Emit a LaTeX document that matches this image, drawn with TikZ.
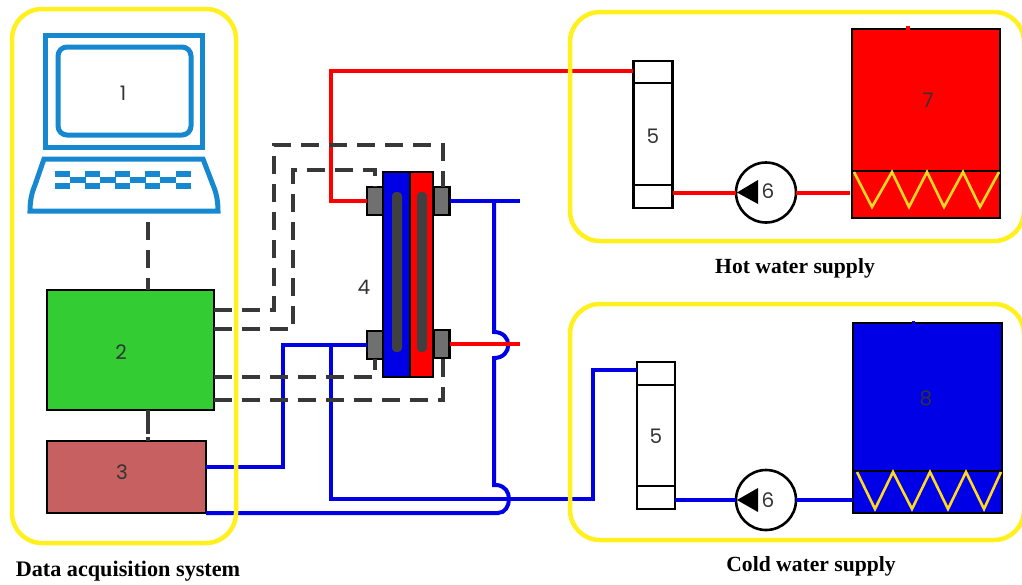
\documentclass[tikz,border=0pt]{standalone}
\usepackage{fontspec}
\setmainfont{Liberation Serif}
\newfontfamily\numfont{Poppins}
\usetikzlibrary{calc}
\definecolor{groupyellow}{HTML}{FFF01E}
\definecolor{coilyellow}{HTML}{FFD820}
\definecolor{lapblue}{HTML}{1688D0}
\definecolor{hotred}{HTML}{FF0000}
\definecolor{coldblue}{HTML}{0000E6}
\definecolor{daqgreen}{HTML}{33CC33}
\definecolor{ampbrown}{HTML}{C76060}
\definecolor{portgray}{HTML}{707070}
\definecolor{bargray}{HTML}{404040}
\definecolor{numgray}{HTML}{333333}
\tikzset{
  box/.style={draw=black, line width=2.6pt, minimum width=#1, inner sep=0pt, outer sep=0pt},
  groupbox/.style={draw=groupyellow, line width=4.5pt, rounded corners=30pt, inner sep=0pt},
  num/.style={font=\numfont\fontsize{20}{20}\selectfont, text=numgray, inner sep=0pt},
  caption/.style={font=\bfseries\fontsize{21.6}{22}\selectfont, inner sep=0pt},
  hotpipe/.style={draw=hotred, line width=4pt},
  coldpipe/.style={draw=coldblue, line width=4pt},
  signal/.style={draw=black!78, line width=3.2pt, dash pattern=on 18pt off 10pt},
  lapline/.style={draw=lapblue, line width=5pt},
  coil/.style={draw=coilyellow, line width=2.6pt},
}
\begin{document}
\begin{tikzpicture}[x=1pt,y=-1pt]
\useasboundingbox (0,0) rectangle (1022,584);
\clip (0,0) rectangle (1022,584);

% laptop
\node[lapline, minimum width=157, minimum height=112, inner sep=0pt, outer sep=0pt] (screen) at (123.5,91) {};
\node[lapline, rounded corners=9pt, minimum width=133, minimum height=88, inner sep=0pt, outer sep=0pt] (display) at (124.5,91) {};
\node[num] (n1) at (123,93) {1};
\coordinate (basetl) at (44,159);
\coordinate (basetr) at (203,159);
\coordinate (basebl) at (30,211);
\coordinate (basebr) at (218,211);
\draw[lapline, line join=miter] (basetl) -- (basetr) -- (213,185) .. controls (216,192) and (218,200) .. (basebr)
  -- (basebl) .. controls (30,200) and (32,192) .. (35,185) -- (basetl) -- cycle;
\foreach \x in {55,85,115,145,176} {
  \fill[lapblue] (\x,171) rectangle ++(15,5.5);
  \fill[lapblue] (\x,183) rectangle ++(15,5.5);
}
\foreach \x in {70,100,130,160} {
  \fill[lapblue] (\x,177) rectangle ++(16,5.5);
}

% data acquisition boxes
\node[box=167, fill=daqgreen, minimum height=120] (daq) at (130.5,350) {};
\node[num] (n2) at (121,352) {2};
\node[box=159, fill=ampbrown, minimum height=72] (amp) at (126.5,477) {};
\node[num] (n3) at (122,472) {3};

% heat exchanger
\fill[coldblue] (383,172) rectangle (410,377);
\fill[hotred] (410,172) rectangle (433,377);
\node[draw=black, line width=2.6pt, minimum width=50, minimum height=205, inner sep=0pt, outer sep=0pt] (hx) at (408,274.5) {};
\draw[black, line width=1.5pt] (hx.north) ++(2,0) -- ($(hx.south)+(2,0)$);
\fill[bargray, rounded corners=4pt] (392,192) rectangle (402,352);
\fill[bargray, rounded corners=4pt] (417,192) rectangle (427,352);
\node[box=16, fill=portgray, minimum height=28] (ptl) at (375,201) {};
\node[box=16, fill=portgray, minimum height=28] (ptr) at (441.5,201) {};
\node[box=16, fill=portgray, minimum height=28] (pbl) at (375,345) {};
\node[box=16, fill=portgray, minimum height=28] (pbr) at (441.5,344) {};
\node[num] (n4) at (364,287) {4};

% rotameters
\node[box=39, fill=white, minimum height=147] (rotH) at (653,134.5) {};
\draw[black, line width=2.6pt] (rotH.west |- 0,83) coordinate (rh1) -- (rh1 -| rotH.east);
\draw[black, line width=2.6pt] (rotH.west |- 0,185) coordinate (rh2) -- (rh2 -| rotH.east);
\node[num] (n5a) at (653,136) {5};
\node[box=38, fill=white, minimum height=147] (rotC) at (656,435.5) {};
\draw[black, line width=2.6pt] (rotC.west |- 0,385) coordinate (rc1) -- (rc1 -| rotC.east);
\draw[black, line width=2.6pt] (rotC.west |- 0,486) coordinate (rc2) -- (rc2 -| rotC.east);
\node[num] (n5b) at (656,436) {5};

% tanks
\node[box=148, fill=hotred, minimum height=189] (tankH) at (926,123.5) {};
\draw[black, line width=2.6pt] (tankH.west |- 0,171) coordinate (th) -- (th -| tankH.east);
\draw[coil] (854,172) -- (872,207) -- (892,172) -- (909,207) -- (927,172) -- (944,207) -- (963,172) -- (980,207) -- (999,172);
\node[num] (n7) at (928,100) {7};
\draw[hotred, line width=3.5pt] (tankH.north) ++(-18,1) -- ++(0,-4);
\node[box=149, fill=coldblue, minimum height=190] (tankC) at (927.5,418) {};
\draw[black, line width=2.6pt] (tankC.west |- 0,471) coordinate (tc) -- (tc -| tankC.east);
\draw[coil] (857,472) -- (875,509) -- (893,472) -- (912,509) -- (930,472) -- (948,509) -- (966,472) -- (984,509) -- (1001,472);
\node[num] (n8) at (926,398) {8};
\draw[coldblue, line width=3pt] (tankC.north) ++(-14,1) -- ++(0,-3);

% pumps
\node[draw=black, line width=2.6pt, fill=white, circle, minimum size=60, inner sep=0pt, outer sep=0pt] (pumpH) at (766,192.5) {};
\fill[black] (737,192.5) -- (758,180) -- (758,204) -- cycle;
\node[num] (n6a) at (768,191) {6};
\node[draw=black, line width=2.6pt, fill=white, circle, minimum size=60, inner sep=0pt, outer sep=0pt] (pumpC) at (766,500) {};
\fill[black] (737,500) -- (758,488) -- (758,512) -- cycle;
\node[num] (n6b) at (768,500) {6};

% pipes
\coordinate (rotHin) at (633,71);
\coordinate (hxout) at (520,201);
\coordinate (hotend) at (520,344);
\coordinate (teeA) at (494,201);
\coordinate (rotCin) at (637,370);
\coordinate (ampA) at (206,467);
\coordinate (ampB) at (206,513);
\coordinate (riseA) at (331,345);
\coordinate (riseB) at (593,499);

\draw[hotpipe] (rotHin) -- (331,71) -- (331,201) -- (ptl.west);
\draw[hotpipe] (pumpH.west) -- (rotH.east |- pumpH.west);
\draw[hotpipe] (pumpH.east) -- (850,192.5);
\draw[coldpipe] (ptr.east) -- (hxout);
\draw[coldpipe] (teeA) -- (494,332) .. controls (513,332) and (513,358) .. (494,358) -- (494,485)
  -- (497,485) .. controls (505,486) and (509,492) .. (509,499) .. controls (509,506) and (505,513) .. (498,513) -- (ampB);
\draw[coldpipe] (pbl.west) -- (283,345) -- (283,467) -- (ampA);
\draw[coldpipe] (riseA) -- (331,499) -- (riseB) -- (593,370) -- (rotCin);
\draw[coldpipe] (pumpC.west) -- (rotC.east |- pumpC.west);
\draw[coldpipe] (pumpC.east) -- (853,500);
\draw[hotpipe] (pbr.east) -- (hotend);

% signal lines
\coordinate (sigA) at (443,187);
\coordinate (sigB) at (375,187);
\coordinate (sigC) at (375,359);
\coordinate (sigD) at (443,358);
\draw[signal] (daq.east |- 0,310) -- (274,310) -- (274,145) -- (443,145) -- (sigA);
\draw[signal] (daq.east |- 0,329) -- (293,329) -- (293,170) -- (375,170) -- (sigB);
\draw[signal] (daq.east |- 0,377) -- (375,377) -- (sigC);
\draw[signal] (daq.east |- 0,400) -- (443,400) -- (sigD);
\coordinate (lapfoot) at (148,222);
\draw[signal] (lapfoot) -- (lapfoot |- daq.north);
\draw[signal, dash pattern=on 24pt off 3pt] (daq.south -| lapfoot) -- (lapfoot |- amp.north);

% group outlines
\node[groupbox, minimum width=224, minimum height=534] (daqgroup) at (124,276) {};
\node[groupbox, minimum width=454, minimum height=229] (hotgroup) at (797,126.5) {};
\node[groupbox, minimum width=454, minimum height=236] (coldgroup) at (797,422) {};

\node[caption] (hotcap) at (795,268) {Hot water supply};
\node[caption] (coldcap) at (811,566) {Cold water supply};
\node[caption, font=\bfseries\fontsize{22.2}{23}\selectfont] (daqcap) at (128,571) {Data acquisition system};
\end{tikzpicture}
\end{document}
